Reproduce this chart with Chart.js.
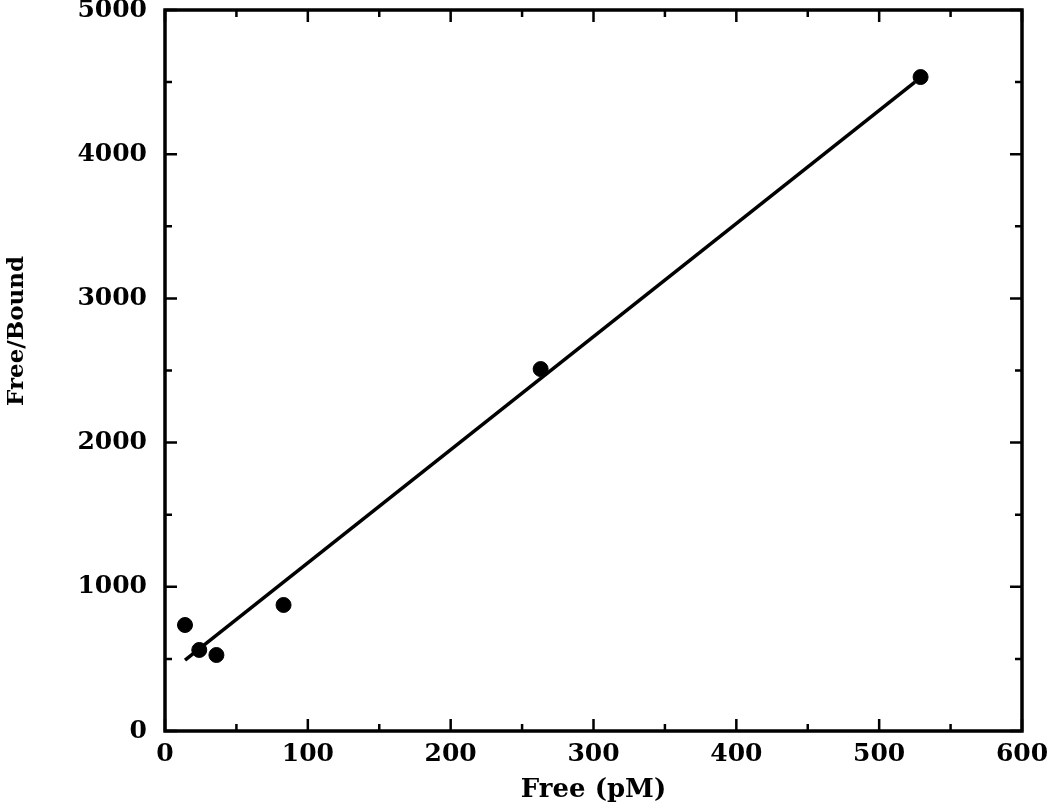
<!DOCTYPE html>
<html>
<head>
<meta charset="utf-8">
<script src="https://cdn.jsdelivr.net/npm/chart.js@4/dist/chart.umd.min.js"></script>
<style>
html,body{margin:0;padding:0;background:#fff;}
#c{display:block;}
</style>
</head>
<body>
<canvas id="c" width="1050" height="806"></canvas>
<script>
// Data
const freeValues = [14, 24, 36, 83, 263, 529];
const freeBoundValues = [735, 562, 527, 874, 2510, 4535];
const fitX = [14, 525];
const fitY = [492, 4500];
const xTicks = [0, 100, 200, 300, 400, 500, 600];
const yTicks = [0, 1000, 2000, 3000, 4000, 5000];
const xMinor = [50, 150, 250, 350, 450, 550];
const yMinor = [500, 1500, 2500, 3500, 4500];
const xTitle = 'Free (pM)';
const yTitle = 'Free/Bound';

const FONT = 'DejaVu Serif';

const frameTicks = {
  id: 'frameTicks',
  afterDatasetsDraw(chart) {
    const {ctx, chartArea: a, scales: {x, y}} = chart;
    ctx.save();
    ctx.strokeStyle = '#000';
    ctx.lineWidth = 3.5;
    ctx.strokeRect(a.left, a.top, a.right - a.left, a.bottom - a.top);
    ctx.lineWidth = 2.5;
    const major = 12, minor = 7;
    const drawX = (v, len) => {
      const px = x.getPixelForValue(v);
      ctx.beginPath();
      ctx.moveTo(px, a.bottom); ctx.lineTo(px, a.bottom - len);
      ctx.moveTo(px, a.top); ctx.lineTo(px, a.top + len);
      ctx.stroke();
    };
    const drawY = (v, len) => {
      const py = y.getPixelForValue(v);
      ctx.beginPath();
      ctx.moveTo(a.left, py); ctx.lineTo(a.left + len, py);
      ctx.moveTo(a.right, py); ctx.lineTo(a.right - len, py);
      ctx.stroke();
    };
    xTicks.forEach(v => drawX(v, major));
    xMinor.forEach(v => drawX(v, minor));
    yTicks.forEach(v => drawY(v, major));
    yMinor.forEach(v => drawY(v, minor));
    // y axis title
    ctx.fillStyle = '#000';
    ctx.font = 'bold 23px "' + FONT + '"';
    ctx.textAlign = 'center';
    ctx.textBaseline = 'middle';
    ctx.translate(17, 331);
    ctx.rotate(-Math.PI / 2);
    ctx.fillText(yTitle, 0, 0);
    ctx.restore();
  }
};

new Chart(document.getElementById('c'), {
  type: 'scatter',
  data: {
    datasets: [
      {
        type: 'line',
        data: fitX.map((v, i) => ({x: v, y: fitY[i]})),
        borderColor: '#000',
        borderWidth: 3.5,
        pointRadius: 0,
        fill: false,
        order: 2
      },
      {
        data: freeValues.map((v, i) => ({x: v, y: freeBoundValues[i]})),
        backgroundColor: '#000',
        borderColor: '#000',
        pointRadius: 7.5,
        pointHoverRadius: 7.5,
        order: 1
      }
    ]
  },
  options: {
    responsive: false,
    animation: false,
    events: [],
    layout: {padding: {top: 10, right: 28, left: 0, bottom: 0}},
    plugins: {legend: {display: false}, tooltip: {enabled: false}},
    scales: {
      x: {
        type: 'linear',
        min: 0, max: 600,
        afterBuildTicks(s) { s.ticks = xTicks.map(v => ({value: v})); },
        afterFit(s) { s.height = 75; s.paddingRight = 0; s.paddingLeft = 0; },
        grid: {display: false, drawTicks: false},
        border: {display: false},
        ticks: {color: '#000', padding: 8, callback: v => String(v),
                font: {family: FONT, size: 25, weight: 'bold'}},
        title: {display: true, text: xTitle, color: '#000', padding: {top: 0, bottom: 0},
                font: {family: FONT, size: 26, weight: 'bold'}}
      },
      y: {
        type: 'linear',
        min: 0, max: 5000,
        afterBuildTicks(s) { s.ticks = yTicks.map(v => ({value: v})); },
        afterFit(s) { s.width = 165; s.paddingTop = 0; s.paddingBottom = 0; },
        grid: {display: false, drawTicks: false},
        border: {display: false},
        ticks: {color: '#000', padding: 18, callback: v => String(v),
                font: {family: FONT, size: 25, weight: 'bold'}}
      }
    }
  },
  plugins: [frameTicks]
});
</script>
</body>
</html>
